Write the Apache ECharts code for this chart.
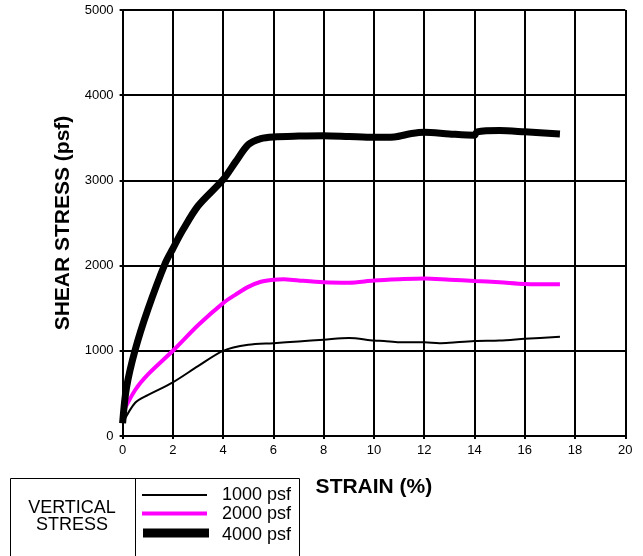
<!DOCTYPE html>
<html>
<head>
<meta charset="utf-8">
<script src="https://cdn.jsdelivr.net/npm/echarts@6/dist/echarts.min.js"></script>
<style>html,body{margin:0;padding:0;background:#fff}#c{width:643px;height:556px}</style>
</head>
<body>
<div id="c"></div>
<script>
var strain1000 = [0, 0.5, 1, 2, 3, 4, 5, 6, 7, 8, 9, 10, 10.4, 11, 12, 12.6, 13, 14, 15, 16, 17.4];
var stress1000 = [150, 390, 480, 630, 820, 1000, 1070, 1090, 1110, 1130, 1150, 1120, 1115, 1100, 1100, 1090, 1095, 1115, 1120, 1140, 1165];
var strain2000 = [0, 0.5, 1, 2, 3, 4, 4.5, 5, 5.5, 6, 6.4, 7, 8, 9, 10, 11, 12, 13, 14, 15, 16, 17.4];
var stress2000 = [270, 540, 720, 1000, 1300, 1560, 1660, 1750, 1810, 1835, 1840, 1825, 1805, 1800, 1825, 1840, 1850, 1835, 1820, 1805, 1785, 1780];
var strain4000 = [0, 0.15, 0.5, 1, 1.7, 2, 2.4, 3, 4, 4.5, 5, 5.5, 6, 7, 8, 9, 10, 10.8, 11.5, 12, 13, 14, 14.1, 15, 16, 17.4];
var stress4000 = [150, 560, 1010, 1480, 2030, 2200, 2420, 2700, 3010, 3220, 3420, 3490, 3510, 3520, 3525, 3515, 3505, 3510, 3550, 3565, 3545, 3530, 3570, 3585, 3570, 3545];
var xTicks = [0, 2, 4, 6, 8, 10, 12, 14, 16, 18, 20];
var yTicks = [0, 1000, 2000, 3000, 4000, 5000];
var legendLabels = ['1000 psf', '2000 psf', '4000 psf'];

function pairs(xs, ys) { return xs.map(function (x, i) { return [x, ys[i]]; }); }

var chart = echarts.init(document.getElementById('c'), null, { renderer: 'canvas' });
var font = 'Liberation Sans, Arial, sans-serif';
var gridLine = { show: true, lineStyle: { color: '#000', width: 2 } };
chart.setOption({
  animation: false,
  grid: { left: 122.6, right: 17.7, top: 10, bottom: 120, containLabel: false },
  xAxis: {
    type: 'value', min: 0, max: 20, interval: 2,
    name: 'STRAIN (%)', nameLocation: 'middle', nameGap: 41,
    nameTextStyle: { fontFamily: font, fontWeight: 'bold', fontSize: 21, color: '#000' },
    axisLine: { show: true, onZero: false, lineStyle: { color: '#000', width: 2 } },
    axisTick: { show: true, length: 3, lineStyle: { color: '#000', width: 2 } },
    axisLabel: { fontFamily: font, fontSize: 13, color: '#000', margin: 8,
      formatter: function (v) { return xTicks.indexOf(v) >= 0 ? String(v) : ''; } },
    splitLine: gridLine
  },
  yAxis: {
    type: 'value', min: 0, max: 5000, interval: 1000,
    name: 'SHEAR STRESS (psf)', nameLocation: 'middle', nameGap: 46, nameRotate: 90,
    nameTextStyle: { fontFamily: font, fontWeight: 'bold', fontSize: 21, color: '#000' },
    axisLine: { show: true, onZero: false, lineStyle: { color: '#000', width: 2 } },
    axisTick: { show: true, length: 3, lineStyle: { color: '#000', width: 2 } },
    axisLabel: { fontFamily: font, fontSize: 13, color: '#000', margin: 9,
      formatter: function (v) { return yTicks.indexOf(v) >= 0 ? String(v) : ''; } },
    splitLine: gridLine
  },
  series: [
    { name: legendLabels[0], type: 'line', data: pairs(strain1000, stress1000), showSymbol: false, smooth: 0.3,
      lineStyle: { color: '#000', width: 2 }, z: 3 },
    { name: legendLabels[1], type: 'line', data: pairs(strain2000, stress2000), showSymbol: false, smooth: 0.3,
      lineStyle: { color: '#ff00ff', width: 4 }, z: 4 },
    { name: legendLabels[2], type: 'line', data: pairs(strain4000, stress4000), showSymbol: false, smooth: 0.3,
      lineStyle: { color: '#000', width: 7 }, z: 5 }
  ],
  graphic: [
    { type: 'rect', shape: { x: 10.5, y: 478.5, width: 289, height: 90 }, style: { fill: '#fff', stroke: '#000', lineWidth: 1 } },
    { type: 'line', shape: { x1: 135.5, y1: 478.5, x2: 135.5, y2: 560 }, style: { stroke: '#000', lineWidth: 1 } },
    { type: 'text', x: 72, y: 508, style: { text: 'VERTICAL', font: '18px ' + font, fill: '#000', align: 'center', verticalAlign: 'middle' } },
    { type: 'text', x: 72, y: 525, style: { text: 'STRESS', font: '18px ' + font, fill: '#000', align: 'center', verticalAlign: 'middle' } },
    { type: 'line', shape: { x1: 142, y1: 495, x2: 207, y2: 495 }, style: { stroke: '#000', lineWidth: 2 } },
    { type: 'line', shape: { x1: 142, y1: 513.5, x2: 207, y2: 513.5 }, style: { stroke: '#ff00ff', lineWidth: 4 } },
    { type: 'line', shape: { x1: 143, y1: 533, x2: 209, y2: 533 }, style: { stroke: '#000', lineWidth: 9 } },
    { type: 'text', x: 222, y: 495, style: { text: legendLabels[0], font: '18px ' + font, fill: '#000', verticalAlign: 'middle' } },
    { type: 'text', x: 222, y: 514.5, style: { text: legendLabels[1], font: '18px ' + font, fill: '#000', verticalAlign: 'middle' } },
    { type: 'text', x: 222, y: 535.5, style: { text: legendLabels[2], font: '18px ' + font, fill: '#000', verticalAlign: 'middle' } }
  ]
});
</script>
</body>
</html>
